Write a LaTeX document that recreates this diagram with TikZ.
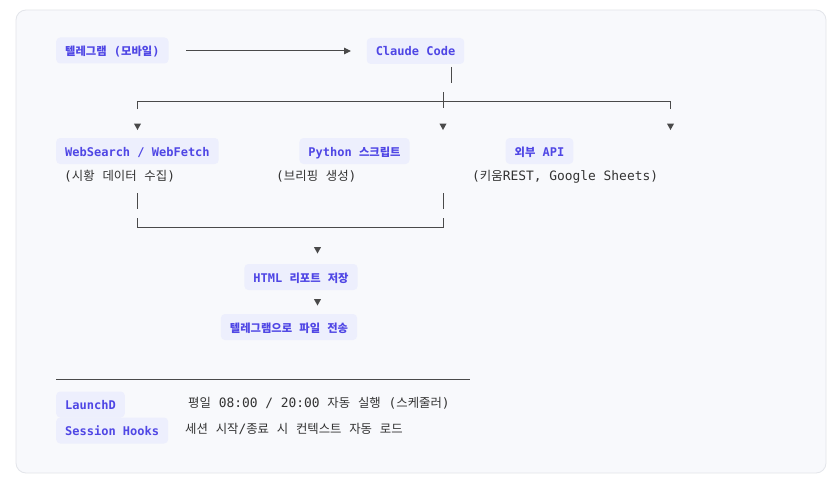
\documentclass[tikz,border=0pt]{standalone}
\usepackage{fontspec}
\usetikzlibrary{arrows.meta}
\newfontfamily\mono{DejaVu Sans Mono}
\newfontfamily\krf[Scale=0.94]{Noto Sans CJK KR}
\newfontfamily\krp[Scale=0.96]{Noto Sans CJK KR}
\newcommand\K[1]{{\krf #1}}
\newcommand\KP[1]{{\krp #1}}
\definecolor{panelfill}{HTML}{F8F9FC}
\definecolor{panelline}{HTML}{E3E5EA}
\definecolor{boxfill}{HTML}{EDEFFD}
\definecolor{boxtext}{HTML}{4F46E5}
\definecolor{plaintext}{HTML}{333333}
\definecolor{linecol}{HTML}{4A4A4A}
\tikzset{
  lbl/.style={fill=boxfill, rounded corners=4pt, text=boxtext, font=\mono\bfseries\fontsize{12}{14}\selectfont,
    inner xsep=9pt, inner ysep=0pt, minimum height=26pt, text height=12pt, text depth=2pt},
  plain/.style={text=plaintext, font=\mono\fontsize{12.9}{15}\selectfont, inner sep=0pt, anchor=west,
    text height=9pt, text depth=2.5pt},
  conn/.style={draw=linecol, line width=1pt},
  tip/.style={fill=linecol},
  pics/dnarrow/.style={code={\fill[tip] (-3.6pt,0) -- (3.6pt,0) -- (0,-6.5pt) -- cycle;}}
}
\begin{document}
\begin{tikzpicture}[x=1pt,y=-1pt]
\fill[white] (0,0) rectangle (838,487);
\useasboundingbox (0,0) rectangle (838,487);
\draw[fill=panelfill, draw=panelline, line width=0.8pt, rounded corners=10pt] (16,10) rectangle (826,473);

% top row
\node[lbl, anchor=west] (tg) at (56,50.5) {\K{텔레그램} (\K{모바일})};
\node[lbl] (cc) at (415.5,51) {Claude Code};
\coordinate (a1) at (186,51);
\coordinate (a2) at (351,51);
\draw[conn, -{Triangle[length=7pt,width=6.5pt]}] (a1) -- (a2);

% fan-out
\coordinate (cv1) at (451,67);
\coordinate (cv2) at (451,83);
\draw[conn] (cv1) -- (cv2);
\coordinate (hl) at (137,101);
\coordinate (hr) at (670.5,101);
\coordinate (hlt) at (137,109);
\coordinate (hrt) at (670.5,109);
\draw[conn] (hlt) -- (hl) -- (hr) -- (hrt);
\coordinate (mt1) at (443,92);
\coordinate (mt2) at (443,108);
\draw[conn] (mt1) -- (mt2);
\pic at (137.5,123.5) {dnarrow};
\pic at (443,123.5) {dnarrow};
\pic at (670.5,123.5) {dnarrow};

% middle row
\node[lbl, anchor=west] (ws) at (56,151) {WebSearch / WebFetch};
\node[lbl] (py) at (354.5,151) {Python \K{스크립트}};
\node[lbl] (api) at (539.5,151) {\K{외부} API};
\node[plain] (wsd) at (64,177) {(\KP{시황} \KP{데이터} \KP{수집})};
\node[plain] (pyd) at (276,177) {(\KP{브리핑} \KP{생성})};
\node[plain] (apid) at (472,177) {(\KP{키움}REST, Google Sheets)};

% join
\coordinate (j1a) at (137,193);
\coordinate (j1b) at (137,209);
\coordinate (j2a) at (443,193);
\coordinate (j2b) at (443,209);
\draw[conn] (j1a) -- (j1b);
\draw[conn] (j2a) -- (j2b);
\coordinate (b1) at (137,218);
\coordinate (b2) at (137,227);
\coordinate (b3) at (443,227);
\coordinate (b4) at (443,218);
\draw[conn] (b1) -- (b2) -- (b3) -- (b4);
\pic at (317.5,247) {dnarrow};

\node[lbl] (html) at (301,277) {HTML \K{리포트} \K{저장}};
\pic at (317.5,299) {dnarrow};
\node[lbl] (send) at (289,327) {\K{텔레그램으로} \K{파일} \K{전송}};

% divider
\coordinate (d1) at (56,379);
\coordinate (d2) at (470,379);
\draw[conn] (d1) -- (d2);

% legend
\node[lbl, anchor=west] (ld) at (56,404.5) {LaunchD};
\node[lbl, anchor=west] (sh) at (56,430.5) {Session Hooks};
\node[plain] (ldd) at (188,404.5) {\KP{평일} 08:00 / 20:00 \KP{자동} \KP{실행} (\KP{스케줄러})};
\node[plain] (shd) at (185,430.5) {\KP{세션} \KP{시작}/\KP{종료} \KP{시} \KP{컨텍스트} \KP{자동} \KP{로드}};
\end{tikzpicture}
\end{document}
